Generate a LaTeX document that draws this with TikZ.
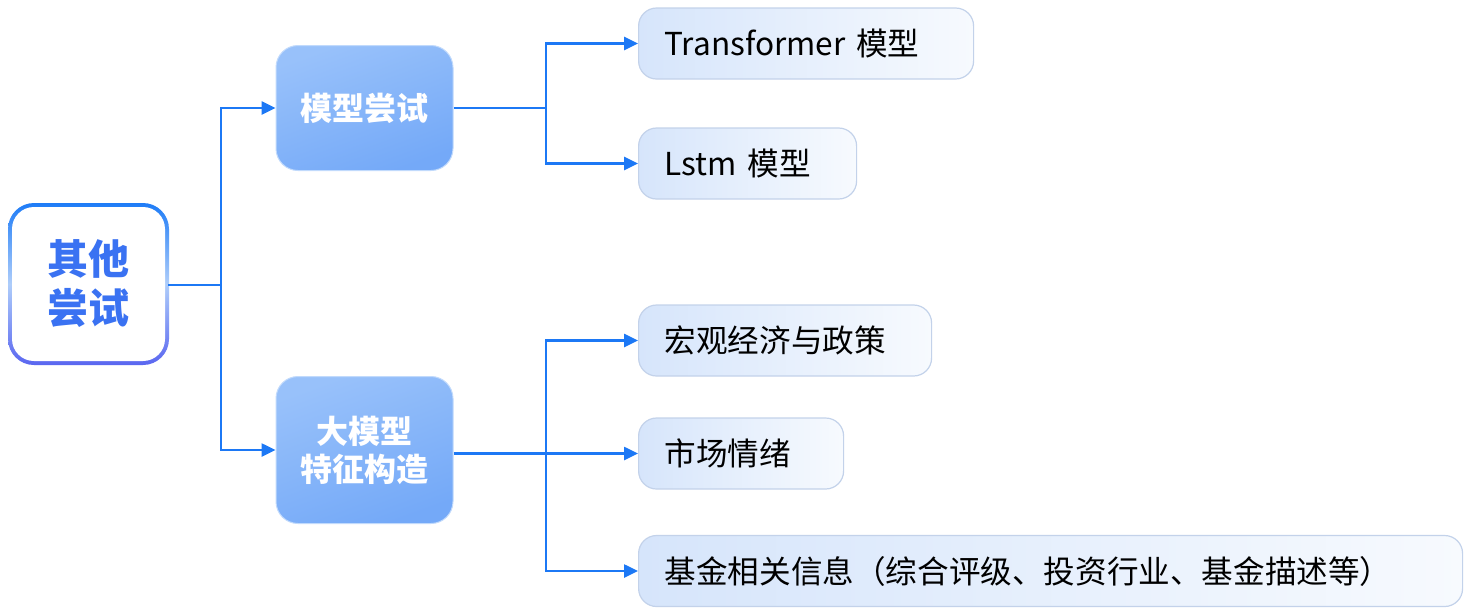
\documentclass[tikz,border=0pt]{standalone}
\usepackage{fontspec}
\setmainfont{Noto Sans CJK SC}
\usetikzlibrary{arrows.meta,calc}
\definecolor{lineblue}{HTML}{1C78F5}
\definecolor{roottop}{HTML}{1E7CF7}
\definecolor{rootmid}{HTML}{AECDFA}
\definecolor{rootbot}{HTML}{5A66F0}
\definecolor{midA}{HTML}{98C1FA}
\definecolor{midB}{HTML}{74A9F8}
\definecolor{leafA}{HTML}{D6E5FB}
\definecolor{leafB}{HTML}{F7FAFE}
\definecolor{leafline}{HTML}{C3D2EA}
\definecolor{roottext}{HTML}{3A72F2}
\tikzset{
  conn/.style={draw=lineblue, line width=1.3pt},
  arr/.style={conn, -{Triangle[length=7pt,width=6.5pt]}},
  midbox/.style={rounded corners=11pt, minimum width=88.5pt, inner sep=0pt,
     shading=axis, top color=midA, bottom color=midB, shading angle=20,
     draw=midA!60!white, line width=0.5pt,
     text=white, font=\fontsize{16pt}{19pt}\selectfont\bfseries, align=center},
  leaf/.style={rounded corners=9pt, anchor=west, minimum height=35.5pt,
     inner xsep=13pt, inner ysep=0pt, align=left,
     left color=leafA, right color=leafB, draw=leafline, line width=0.6pt,
     text=black, font=\fontsize{15.8pt}{18pt}\selectfont}
}
\begin{document}
\begin{tikzpicture}[x=0.5pt,y=-0.5pt]
\useasboundingbox (0,0) rectangle (1466,607);
% root box: gradient border
\shade[rounded corners=13pt, top color=roottop, bottom color=rootbot, middle color=rootmid]
  (8,203) rectangle (169,365);
\fill[white, rounded corners=11pt] (12,207) rectangle (165,361);
\node[inner sep=0pt, align=center, text=roottext,
      font=\fontsize{20.5pt}{24.5pt}\selectfont\bfseries] (root) at (88.5,284) {其他\\尝试};
\coordinate (rootE) at (168,285);
% middle boxes
\node[midbox, minimum height=62.5pt] (m1) at (364.5,108) {模型尝试};
\node[midbox, minimum height=73.5pt] (m2) at (364.5,450) {大模型\\特征构造};
% leaves
\node[leaf, text width=141.5pt] (t1) at (638,43.5) {Transformer 模型};
\node[leaf, text width=83pt] (t2) at (638,163.5) {Lstm 模型};
\node[leaf, text width=120.5pt] (f1) at (638,340.5) {宏观经济与政策};
\node[leaf, text width=76.5pt] (f2) at (638,453.5) {市场情绪};
\node[leaf, text width=386pt] (f3) at (638,571) {基金相关信息（综合评级、投资行业、基金描述等）};
% junctions
\coordinate (j1) at (221,285);
\coordinate (j2) at (546,108);
\coordinate (j3) at (546,453.5);
% connectors
\draw[conn] (rootE) -- (j1);
\draw[arr] (j1) |- (m1.west);
\draw[arr] (j1) |- (m2.west);
\draw[conn] (m2.east |- j3) -- (j3);
\draw[conn] (m1.east) -- (j2);
\draw[arr] (j2) |- (t1.west);
\draw[arr] (j2) |- (t2.west);
\draw[arr] (j3) |- (f1.west);
\draw[arr] (j3) -- (f2.west);
\draw[arr] (j3) |- (f3.west);
\end{tikzpicture}
\end{document}
